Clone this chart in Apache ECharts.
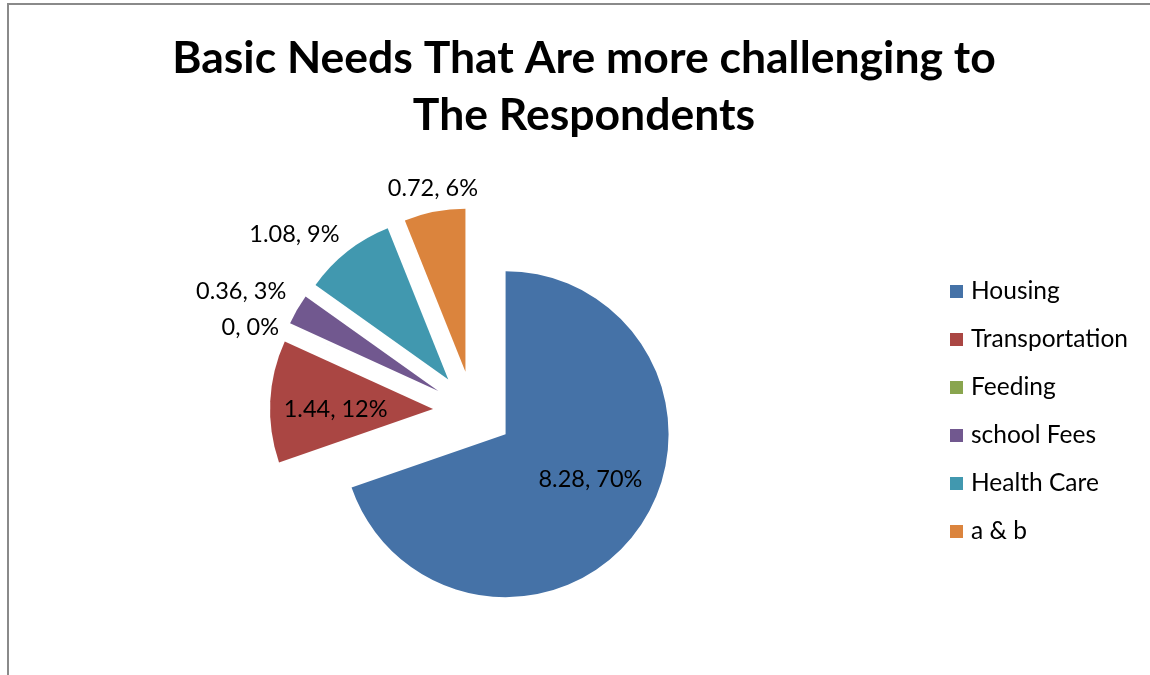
<!DOCTYPE html>
<html>
<head>
<meta charset="utf-8">
<script src="https://cdn.jsdelivr.net/npm/echarts@6/dist/echarts.min.js"></script>
<style>
  html, body { margin: 0; padding: 0; background: #ffffff; }
  #frame { position: absolute; left: 7px; top: 3px; width: 1160px; height: 700px;
           border-top: 2px solid #8a8a8a; border-left: 2px solid #8a8a8a; }
  #chart { position: absolute; left: 0; top: 0; width: 1150px; height: 675px; }
</style>
</head>
<body>
<div id="frame"></div>
<div id="chart"></div>
<script>
const titleText = 'Basic Needs That Are more challenging to\nThe Respondents';
const categories = ['Housing', 'Transportation', 'Feeding', 'school Fees', 'Health Care', 'a & b'];
const values = [8.28, 1.44, 0, 0.36, 1.08, 0.72];
const colors = ['#4572A7', '#AA4643', '#89A54E', '#71588F', '#4198AF', '#DB843D'];
const insideLabels = ['Housing', 'Transportation'];

const FONT = 'Lato, "Open Sans", sans-serif';

// small nudges of label text so it sits where the reference puts it
const labelNudge = {
  'Housing': [16, -4],
  'Transportation': [-13, 4],
  'Feeding': [3, 4],
  'school Fees': [1, -14],
  'Health Care': [2, -11],
  'a & b': [50, -15]
};

const chart = echarts.init(document.getElementById('chart'), null, { renderer: 'canvas' });

const data = categories.map((name, i) => {
  const inside = insideLabels.indexOf(name) >= 0;
  return {
    name: name,
    value: values[i],
    selected: true,
    itemStyle: { color: colors[i] },
    label: inside
      ? { position: 'inside' }
      : { position: 'outside' },
    labelLine: { show: false }
  };
});

chart.setOption({
  animation: false,
  backgroundColor: 'transparent',
  title: {
    text: titleText,
    left: 579,
    textAlign: 'center',
    top: 25,
    textStyle: {
      fontFamily: FONT,
      fontWeight: 'bold',
      fontSize: 44.5,
      lineHeight: 57,
      color: '#000000'
    }
  },
  legend: {
    orient: 'vertical',
    left: 950,
    top: 279,
    padding: 0,
    itemWidth: 13,
    itemHeight: 13,
    itemGap: 23,
    icon: 'rect',
    selectedMode: false,
    data: categories,
    textStyle: {
      fontFamily: FONT,
      fontSize: 24.5,
      lineHeight: 24,
      color: '#000000',
      padding: [0, 0, 0, 3]
    }
  },
  series: [{
    type: 'pie',
    center: [473, 411],
    radius: 163,
    startAngle: 90,
    clockwise: true,
    minAngle: 0.01,
    selectedMode: 'multiple',
    selectedOffset: 40,
    percentPrecision: 0,
    avoidLabelOverlap: false,
    emphasis: { disabled: true },
    label: {
      show: true,
      formatter: '{c}, {d}%',
      fontFamily: FONT,
      fontSize: 23.5,
      color: '#000000'
    },
    labelLine: { show: false, length: 8, length2: 0 },
    labelLayout: function (params) {
      const n = labelNudge[categories[params.dataIndex]] || [0, 0];
      return { dx: n[0], dy: n[1] };
    },
    data: data
  }]
});
</script>
</body>
</html>
